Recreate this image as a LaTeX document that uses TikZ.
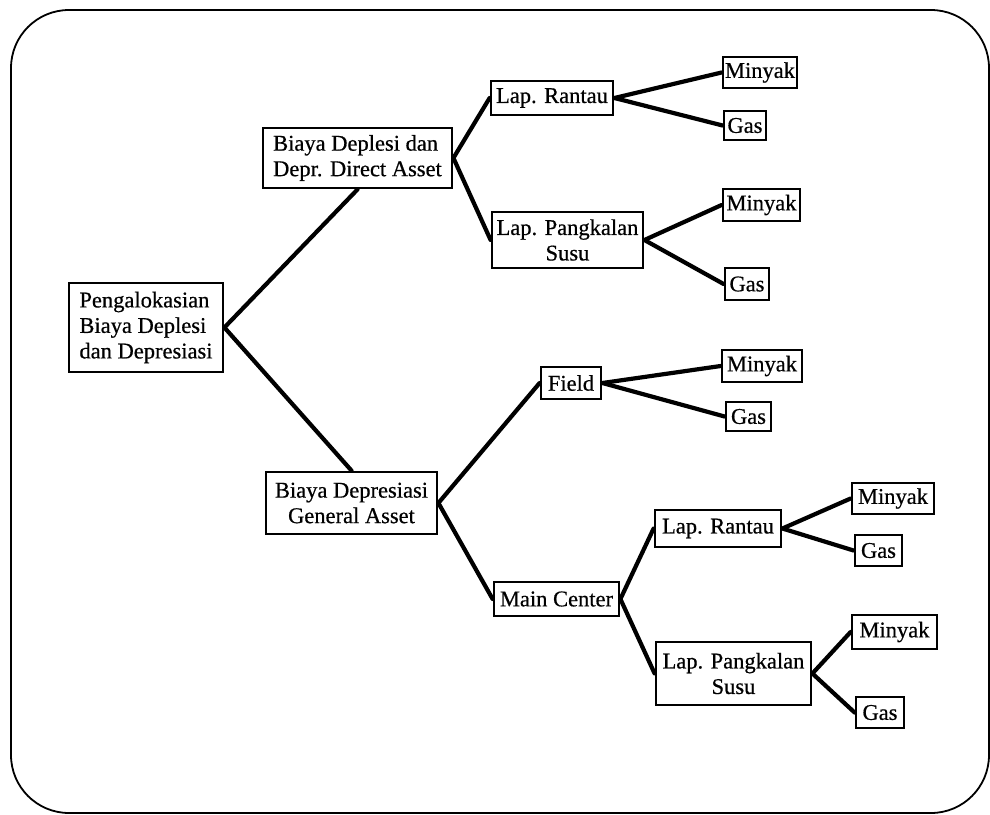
\documentclass[tikz,border=0pt]{standalone}
\usepackage{fontspec}
\setmainfont{Liberation Serif}[FakeBold=0.6]
\begin{document}
\begin{tikzpicture}[x=1pt,y=-1pt,
  box/.style={draw, line width=2.8pt, inner sep=0pt, align=center,
    font=\fontsize{22.5}{25.5}\selectfont},
  link/.style={line width=4.2pt, line cap=round}]
\useasboundingbox (0,0) rectangle (990,814);
\draw[line width=1.8pt, rounded corners=58pt] (11,10) rectangle (989,813);

\node[box, align=left, minimum width=154, minimum height=89] (root) at (146,327.5) {Pengalokasian\\Biaya Deplesi\\dan Depresiasi};
\node[box, align=left, minimum width=189, minimum height=60] (dd) at (357.5,158) {Biaya Deplesi dan\\Depr. Direct Asset};
\node[box, minimum width=171, minimum height=62] (dg) at (351.5,503) {Biaya Depresiasi\\General Asset};

\node[box, minimum width=122, minimum height=34] (r1) at (552,98) {Lap. Rantau};
\node[box, minimum width=151, minimum height=56] (p1) at (567.5,240) {Lap. Pangkalan\\Susu};
\node[box, minimum width=74, minimum height=31] (m1) at (760,72.5) {Minyak};
\node[box, minimum width=42, minimum height=29] (g1) at (745,125.5) {Gas};
\node[box, minimum width=77, minimum height=32] (m2) at (761.5,205) {Minyak};
\node[box, minimum width=44, minimum height=32] (g2) at (747,284) {Gas};

\node[box, minimum width=60, minimum height=32] (f) at (571,383) {Field};
\node[box, minimum width=80, minimum height=32] (m3) at (762,366) {Minyak};
\node[box, minimum width=45, minimum height=29] (g3) at (748.5,416.5) {Gas};

\node[box, minimum width=125, minimum height=34] (mc) at (556.5,599) {Main Center};
\node[box, minimum width=126, minimum height=37] (r2) at (718,528.5) {Lap. Rantau};
\node[box, minimum width=155, minimum height=63] (p2) at (733.5,673.5) {Lap. Pangkalan\\Susu};
\node[box, minimum width=82, minimum height=31] (m4) at (893,498.5) {Minyak};
\node[box, minimum width=47, minimum height=31] (g4) at (878.5,550.5) {Gas};
\node[box, minimum width=85, minimum height=34] (m5) at (894.5,632) {Minyak};
\node[box, minimum width=48, minimum height=31] (g5) at (880,712.5) {Gas};

\draw[link] (root.east) -- (dd.south);
\draw[link] (root.east) -- (dg.north);
\draw[link] (dd.east) -- (r1.west);
\draw[link] (dd.east) -- (p1.west);
\draw[link] (r1.east) -- (m1.west);
\draw[link] (r1.east) -- (g1.west);
\draw[link] (p1.east) -- (m2.west);
\draw[link] (p1.east) -- (g2.west);
\draw[link] (dg.east) -- (f.west);
\draw[link] (dg.east) -- (mc.west);
\draw[link] (f.east) -- (m3.west);
\draw[link] (f.east) -- (g3.west);
\draw[link] (mc.east) -- (r2.west);
\draw[link] (mc.east) -- (p2.west);
\draw[link] (r2.east) -- (m4.west);
\draw[link] (r2.east) -- (g4.west);
\draw[link] (p2.east) -- (m5.west);
\draw[link] (p2.east) -- (g5.west);
\end{tikzpicture}
\end{document}
